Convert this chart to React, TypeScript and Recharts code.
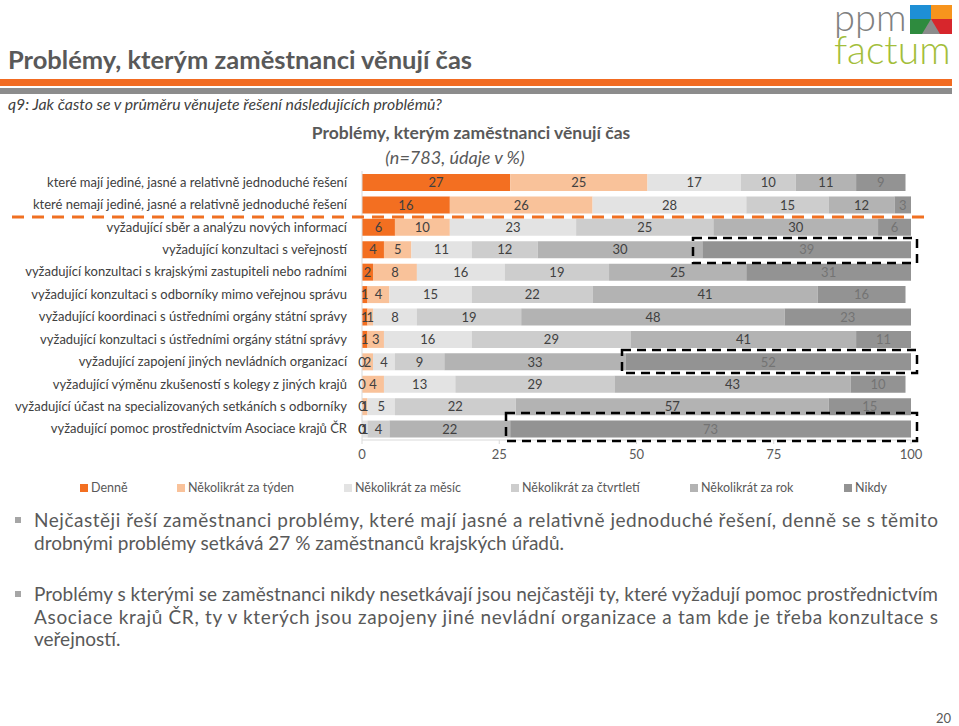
import React from "react";
import { BarChart, Bar, XAxis, YAxis, LabelList } from "recharts";

const categories = [
  "které mají jediné, jasné a relativně jednoduché řešení",
  "které nemají jediné, jasné a relativně jednoduché řešení",
  "vyžadující sběr a analýzu nových informací",
  "vyžadující konzultaci s veřejností",
  "vyžadující konzultaci s krajskými zastupiteli nebo radními",
  "vyžadující konzultaci s odborníky mimo veřejnou správu",
  "vyžadující koordinaci s ústředními orgány státní správy",
  "vyžadující konzultaci s ústředními orgány státní správy",
  "vyžadující zapojení jiných nevládních organizací",
  "vyžadující výměnu zkušeností s kolegy z jiných krajů",
  "vyžadující účast na specializovaných setkáních s odborníky",
  "vyžadující pomoc prostřednictvím Asociace krajů ČR",
];

const denne = [27, 16, 6, 4, 2, 1, 1, 1, 0, 0, 0, 0];
const tyden = [25, 26, 10, 5, 8, 4, 1, 3, 2, 4, 1, 0];
const mesic = [17, 28, 23, 11, 16, 15, 8, 16, 4, 13, 5, 1];
const ctvrtleti = [10, 15, 25, 12, 19, 22, 19, 29, 9, 29, 22, 4];
const rok = [11, 12, 30, 30, 25, 41, 48, 41, 33, 43, 57, 22];
const nikdy = [9, 3, 6, 39, 31, 16, 23, 11, 52, 10, 15, 73];

const xTicks = [0, 25, 50, 75, 100];

const series = [
  { key: "denne", name: "Denně", values: denne, color: "#F36F21", text: "#404040", legendX: 80 },
  { key: "tyden", name: "Několikrát za týden", values: tyden, color: "#F9C29A", text: "#404040", legendX: 177 },
  { key: "mesic", name: "Několikrát za měsíc", values: mesic, color: "#E3E3E3", text: "#404040", legendX: 344 },
  { key: "ctvrtleti", name: "Několikrát za čtvrtletí", values: ctvrtleti, color: "#CDCDCD", text: "#404040", legendX: 511 },
  { key: "rok", name: "Několikrát za rok", values: rok, color: "#B3B3B3", text: "#404040", legendX: 690 },
  { key: "nikdy", name: "Nikdy", values: nikdy, color: "#939393", text: "#737373", legendX: 844 },
];

// řádky komentáře pod grafem (plné řádky jsou zarovnané do bloku)
const notes = [
  [
    { t: "Nejčastěji řeší zaměstnanci problémy, které mají jasné a relativně jednoduché řešení, denně se s těmito", full: true },
    { t: "drobnými problémy setkává 27 % zaměstnanců krajských úřadů.", full: false },
  ],
  [
    { t: "Problémy s kterými se zaměstnanci nikdy nesetkávají jsou nejčastěji ty, které vyžadují pomoc prostřednictvím", full: true },
    { t: "Asociace krajů ČR, ty v kterých jsou zapojeny jiné nevládní organizace a tam kde je třeba konzultace s", full: true },
    { t: "veřejností.", full: false },
  ],
];

const data = categories.map((name, i) => ({
  name,
  denne: denne[i],
  tyden: tyden[i],
  mesic: mesic[i],
  ctvrtleti: ctvrtleti[i],
  rok: rok[i],
  nikdy: nikdy[i],
}));

const FONT = "Lato, 'Open Sans', sans-serif";
const EPS = 0.0001; // nulové úseky by jinak neměly popisek

const makeLabel = (values: number[], fill: string) => (props: any) => {
  const { x, y, width, height, value, index } = props;
  const shown = typeof index === "number" ? values[index] : Math.round(Number(value));
  return (
    <text
      x={Number(x) + Number(width) / 2}
      y={Number(y) + Number(height) / 2}
      dy="0.36em"
      textAnchor="middle"
      fontSize={13}
      fontFamily={FONT}
      fill={fill}
    >
      {shown}
    </text>
  );
};

const CatTick = (props: any) => {
  const { x, y, payload } = props;
  return (
    <text x={x} y={y} dy="0.35em" textAnchor="end" fontSize={13} fill="#404040" fontFamily={FONT}>
      {payload.value}
    </text>
  );
};

function Logo() {
  return (
    <div style={{ position: "absolute", left: 834, top: 0, width: 124, height: 66 }}>
      <div
        style={{
          position: "absolute",
          left: 0,
          top: 1,
          fontFamily: FONT,
          fontWeight: 300,
          fontSize: 38,
          color: "#808080",
          lineHeight: "30px",
        }}
      >
        ppm
      </div>
      <svg style={{ position: "absolute", left: 76, top: 5 }} width={42} height={29}>
        <rect x={0} y={0} width={21} height={14} fill="#1E8FD5" />
        <rect x={21} y={0} width={21} height={14} fill="#F7941D" />
        <rect x={0} y={14} width={21} height={15} fill="#2E8B3E" />
        <rect x={21} y={14} width={21} height={15} fill="#D7262C" />
        <polygon points="21,14 12,29 30,29" fill="#8C8C8C" />
      </svg>
      <div
        style={{
          position: "absolute",
          left: 0,
          top: 38,
          fontFamily: FONT,
          fontWeight: 300,
          fontSize: 39,
          color: "#A3BE3A",
          lineHeight: "22px",
        }}
      >
        factum
      </div>
    </div>
  );
}

export default function App() {
  return (
    <div
      style={{
        position: "absolute",
        left: 0,
        top: 0,
        width: 959,
        height: 726,
        background: "#fff",
        fontFamily: FONT,
        overflow: "hidden",
      }}
    >
      <div
        style={{
          position: "absolute",
          left: 8,
          top: 44,
          fontSize: 25.5,
          fontWeight: 700,
          color: "#595959",
          lineHeight: "30px",
          whiteSpace: "nowrap",
        }}
      >
        Problémy, kterým zaměstnanci věnují čas
      </div>
      <Logo />
      <div style={{ position: "absolute", left: 0, top: 79, width: 952, height: 7, background: "#F26B21" }} />
      <div style={{ position: "absolute", left: 0, top: 88, width: 952, height: 6, background: "#8C8C8C" }} />
      <div
        style={{
          position: "absolute",
          left: 8,
          top: 94,
          fontSize: 15.8,
          fontStyle: "italic",
          color: "#404040",
          lineHeight: "19px",
          whiteSpace: "nowrap",
        }}
      >
        q9: Jak často se v průměru věnujete řešení následujících problémů?
      </div>

      <div
        style={{
          position: "absolute",
          left: 271,
          width: 400,
          top: 122,
          textAlign: "center",
          fontSize: 17.5,
          fontWeight: 700,
          color: "#595959",
          lineHeight: "22px",
        }}
      >
        Problémy, kterým zaměstnanci věnují čas
      </div>
      <div
        style={{
          position: "absolute",
          left: 255,
          width: 400,
          top: 146,
          textAlign: "center",
          fontSize: 18,
          fontStyle: "italic",
          color: "#595959",
          lineHeight: "22px",
        }}
      >
        (n=783, údaje v %)
      </div>

      <div style={{ position: "absolute", left: 0, top: 160 }}>
        <BarChart
          layout="vertical"
          width={959}
          height={310}
          data={data}
          margin={{ top: 11, right: 48, bottom: 0, left: 0 }}
          barSize={17}
        >
          <XAxis
            type="number"
            domain={[0, 100]}
            ticks={xTicks}
            height={30}
            allowDataOverflow
            tick={{ fontSize: 13, fill: "#595959", fontFamily: FONT }}
            axisLine={{ stroke: "#D9D9D9" }}
            tickLine={{ stroke: "#D9D9D9" }}
            tickSize={4}
            tickMargin={6}
          />
          <YAxis
            type="category"
            dataKey="name"
            width={362}
            tick={<CatTick />}
            axisLine={{ stroke: "#D9D9D9" }}
            tickLine={false}
            tickSize={6}
            tickMargin={9}
            interval={0}
          />
          <YAxis yAxisId="lbl" type="category" dataKey="name" hide />
          {series.map((s) => (
            <Bar
              key={s.key}
              dataKey={s.key}
              name={s.name}
              stackId="a"
              fill={s.color}
              isAnimationActive={false}
            />
          ))}
          {/* popisky kreslené až nad všemi pruhy */}
          {series.map((s) => (
            <Bar
              key={"lbl-" + s.key}
              yAxisId="lbl"
              dataKey={(d: any) => d[s.key] || EPS}
              stackId="lbl"
              fill="transparent"
              legendType="none"
              isAnimationActive={false}
            >
              <LabelList content={makeLabel(s.values, s.text)} />
            </Bar>
          ))}
        </BarChart>
      </div>

      <svg
        style={{ position: "absolute", left: 0, top: 0, pointerEvents: "none" }}
        width={959}
        height={726}
      >
        <line x1={12} y1={217} x2={930} y2={217} stroke="#F07022" strokeWidth={3} strokeDasharray="12 8" />
        <g fill="none" stroke="#000" strokeWidth={2.5} strokeDasharray="9 6">
          <rect x={693} y={238} width={224} height={25} />
          <rect x={622} y={350} width={295} height={23} />
          <rect x={506} y={413} width={411} height={28} />
        </g>
      </svg>

      <div style={{ position: "absolute", left: 0, top: 479, width: 959, height: 20 }}>
        {series.map((s) => (
          <div
            key={s.key}
            style={{
              position: "absolute",
              left: s.legendX,
              top: 0,
              display: "flex",
              alignItems: "center",
              fontSize: 12.5,
              color: "#595959",
              lineHeight: "18px",
              whiteSpace: "nowrap",
            }}
          >
            <span style={{ width: 8, height: 8, background: s.color, marginRight: 3, display: "inline-block" }} />
            {s.name}
          </div>
        ))}
      </div>

      <svg style={{ position: "absolute", left: 0, top: 500 }} width={959} height={160}>
        {notes.map((para, pi) => {
          const top = pi === 0 ? 21 : 95;
          return (
            <g key={pi}>
              <rect x={15} y={top - 4} width={6} height={6} fill="#A6A6A6" />
              {para.map((ln, li) => (
                <text
                  key={li}
                  x={34}
                  y={top + li * 22.5 + 6}
                  fontSize={19}
                  fontFamily={FONT}
                  fill="#595959"
                  {...(ln.full ? { textLength: 904, lengthAdjust: "spacing" } : {})}
                >
                  {ln.t}
                </text>
              ))}
            </g>
          );
        })}
      </svg>

      <div style={{ position: "absolute", left: 936, top: 710, fontSize: 13, color: "#595959" }}>20</div>
    </div>
  );
}
